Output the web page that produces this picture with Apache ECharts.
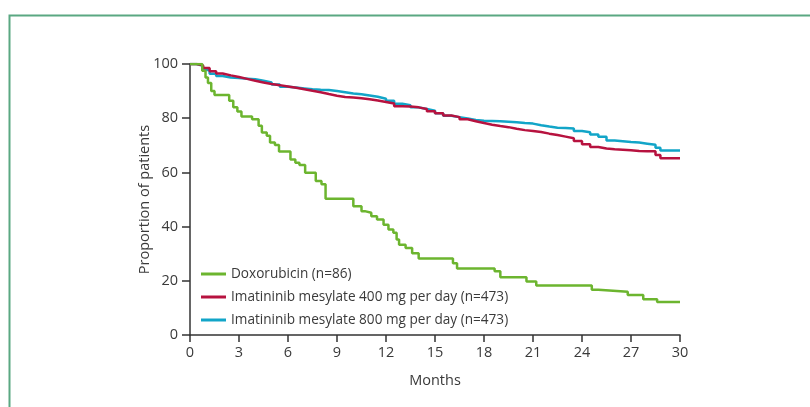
<!DOCTYPE html>
<html>
<head>
<meta charset="utf-8">
<script src="https://cdn.jsdelivr.net/npm/echarts@6/dist/echarts.min.js"></script>
<style>
html,body{margin:0;padding:0;background:#fff;}
#c{width:810px;height:407px;}
</style>
</head>
<body>
<div id="c"></div>
<script>
// ---- data ----
const seriesNames = ['Doxorubicin (n=86)', 'Imatininib mesylate 400 mg per day (n=473)', 'Imatininib mesylate 800 mg per day (n=473)'];
const xTicks = [0, 3, 6, 9, 12, 15, 18, 21, 24, 27, 30];
const yTicks = [0, 20, 40, 60, 80, 100];

const doxoMonths = [0, 0.75, 0.95, 1.1, 1.3, 1.5, 2.4, 2.65, 2.9, 3.15, 3.8, 4.2, 4.4, 4.7, 4.9, 5.2, 5.45, 6.15, 6.45, 6.7, 7.05, 7.7, 8.05, 8.3, 10.0, 10.5, 10.7, 11.1, 11.45, 11.85, 12.15, 12.45, 12.65, 12.8, 13.2, 13.6, 14.0, 16.1, 16.35, 18.65, 19.0, 20.6, 21.2, 24.6, 25.0, 26.8, 27.75, 28.6, 30];
const doxoValues = [100, 97.5, 95, 93, 90, 88.6, 86.4, 84, 82.5, 80.6, 79.6, 77.2, 74.7, 73.5, 71, 70.1, 67.7, 64.8, 63.6, 62.7, 59.9, 56.8, 55.6, 50.3, 47.5, 45.7, 45.1, 43.8, 42.6, 40.7, 38.9, 37.7, 35.2, 33.3, 32.1, 30.2, 28.2, 26.5, 24.5, 23.5, 21.3, 19.7, 18.3, 16.7, 16.0, 14.8, 13.2, 12.2, 12.2];

const imMonths = [0, 0.4, 0.8, 1.2, 1.6, 2.0, 2.5, 3.0, 3.5, 4.0, 4.5, 5.0, 5.5, 6.0, 6.5, 7.0, 7.5, 8.0, 8.5, 9.0, 9.5, 10.0, 10.5, 11.0, 11.5, 12.0, 12.5, 13.0, 13.5, 14.0, 14.5, 15.0, 15.5, 16.0, 16.5, 17.0, 17.5, 18.0, 18.5, 19.0, 19.5, 20.0, 20.5, 21.0, 21.5, 22.0, 22.5, 23.0, 23.5, 24.0, 24.5, 25.0, 25.5, 26.0, 26.5, 27.0, 27.5, 28.0, 28.5, 28.8, 29.0, 30];
const im400Values = [100, 99.5, 98.5, 97.3, 96.5, 95.8, 95.2, 94.5, 93.8, 93.2, 92.6, 92.2, 91.7, 91.2, 90.7, 90.1, 89.6, 88.9, 88.3, 87.8, 87.6, 87.4, 87.0, 86.5, 86.0, 85.4, 84.4, 84.3, 84.0, 83.4, 82.6, 81.8, 81.0, 80.4, 79.6, 78.9, 78.2, 77.6, 77.1, 76.7, 76.1, 75.6, 75.3, 74.9, 74.3, 73.8, 73.2, 72.6, 71.6, 70.4, 69.4, 68.8, 68.5, 68.4, 68.2, 67.9, 67.8, 67.8, 66.4, 65.2, 65.2, 65.2];
const im800Values = [100, 99.3, 97.8, 96.4, 95.6, 95.0, 94.8, 94.6, 94.4, 93.8, 93.2, 92.4, 91.6, 91.3, 91.0, 90.7, 90.5, 90.4, 90.0, 89.6, 89.1, 88.8, 88.4, 87.9, 87.2, 86.4, 85.3, 84.8, 84.0, 83.4, 82.8, 81.8, 80.9, 80.4, 79.9, 79.3, 79.1, 79.0, 78.9, 78.7, 78.5, 78.2, 78.0, 77.4, 76.9, 76.5, 76.4, 76.2, 75.3, 74.8, 74.0, 73.2, 71.8, 71.5, 71.2, 71.0, 70.6, 70.2, 69.1, 68.1, 68.1, 68.1];

const colors = ['#6cb52f', '#b7123f', '#12a5c8'];

function pairs(xs, ys) { return xs.map((x, i) => [x, ys[i]]); }

const chart = echarts.init(document.getElementById('c'), null, { renderer: 'canvas' });
const font = 'Open Sans';
const txt = '#3a3a3a';
chart.setOption({
  animation: false,
  backgroundColor: '#fff',
  graphic: [{
    type: 'rect', left: 7, top: 13,
    shape: { width: 900, height: 500 },
    style: { fill: 'none', stroke: '#5aa882', lineWidth: 2 },
    silent: true
  }],
  grid: { left: 190, right: 130, top: 64, bottom: 72, containLabel: false },
  legend: {
    orient: 'vertical', left: 196, top: 262,
    itemWidth: 25, itemHeight: 3, itemGap: 9, icon: 'rect',
    data: seriesNames,
    textStyle: { fontFamily: font, fontSize: 13.6, color: txt }
  },
  xAxis: {
    type: 'value', min: 0, max: 30, interval: 3,
    name: 'Months', nameLocation: 'middle', nameGap: 38,
    nameTextStyle: { fontFamily: font, fontSize: 14.5, color: txt },
    axisLine: { lineStyle: { color: '#333', width: 1.5 } },
    axisTick: { show: true, length: 7, lineStyle: { color: '#333', width: 1.5 } },
    axisLabel: { fontFamily: font, fontSize: 14.5, color: txt, margin: 10,
      formatter: v => xTicks.includes(v) ? String(v) : '' },
    splitLine: { show: false }
  },
  yAxis: {
    type: 'value', min: 0, max: 100, interval: 20,
    name: 'Proportion of patients', nameLocation: 'middle', nameGap: 38,
    nameMoveOverlap: false,
    nameTextStyle: { fontFamily: font, fontSize: 14.5, color: txt },
    axisLine: { show: true, lineStyle: { color: '#333', width: 1.5 } },
    axisTick: { show: true, length: 8, lineStyle: { color: '#333', width: 1.5 } },
    axisLabel: { fontFamily: font, fontSize: 14.5, color: txt, margin: 12,
      formatter: v => yTicks.includes(v) ? String(v) : '' },
    splitLine: { show: false }
  },
  series: [
    { name: seriesNames[2], type: 'line', step: 'end', showSymbol: false, z: 2,
      data: pairs(imMonths, im800Values), lineStyle: { color: colors[2], width: 2.5 }, itemStyle: { color: colors[2] } },
    { name: seriesNames[1], type: 'line', step: 'end', showSymbol: false, z: 3,
      data: pairs(imMonths, im400Values), lineStyle: { color: colors[1], width: 2.5 }, itemStyle: { color: colors[1] } },
    { name: seriesNames[0], type: 'line', step: 'end', showSymbol: false, z: 4,
      data: pairs(doxoMonths, doxoValues), lineStyle: { color: colors[0], width: 2.5 }, itemStyle: { color: colors[0] } }
  ]
});
</script>
</body>
</html>
